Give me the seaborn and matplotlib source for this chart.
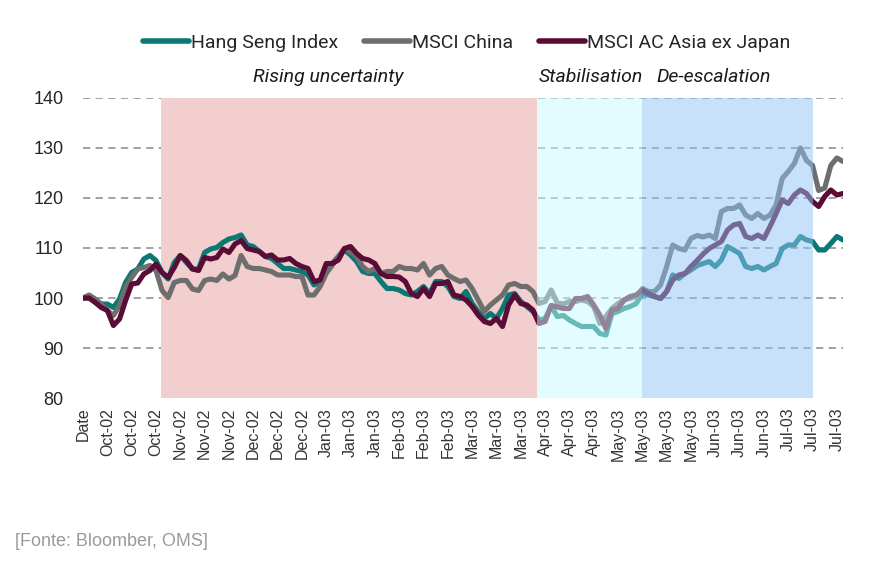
import numpy as np
import pandas as pd
import matplotlib
matplotlib.use("Agg")
import matplotlib.pyplot as plt
import matplotlib.transforms as mtransforms
from matplotlib.lines import Line2D
import seaborn as sns

# index levels (base 100), one value per trading-day step
hang_seng = [
    100.0, 100.0, 99.5, 98.8, 98.8, 98.1, 99.8, 103.1, 105.1, 105.8,
    107.8, 108.5, 107.5, 105.1, 103.8, 107.1, 108.5, 107.1, 105.8, 105.8,
    109.1, 109.8, 110.1, 111.1, 111.8, 112.1, 112.6, 110.6, 110.3, 109.3,
    108.3, 107.9, 106.9, 105.9, 105.9, 105.6, 105.3, 104.6, 102.6, 103.3,
    105.9, 106.9, 108.3, 109.6, 108.6, 107.3, 105.3, 104.9, 104.9, 103.3,
    101.9, 101.9, 101.6, 100.9, 100.6, 101.3, 102.3, 100.9, 103.3, 103.3,
    102.3, 100.3, 99.9, 101.3, 98.9, 97.3, 95.9, 96.9, 95.9, 97.9,
    100.6, 100.9, 99.3, 98.3, 97.3, 95.6, 95.9, 98.4, 96.3, 96.5,
    95.6, 94.9, 94.3, 94.3, 94.3, 92.9, 92.6, 96.9, 97.3, 97.9,
    98.3, 98.9, 100.9, 100.6, 100.3, 99.9, 101.3, 104.6, 103.9, 104.9,
    105.6, 106.5, 106.9, 107.3, 106.3, 107.6, 110.3, 109.6, 108.9, 106.3,
    105.9, 106.3, 105.6, 106.3, 106.9, 109.9, 110.6, 110.6, 112.3, 111.6,
    111.3, 109.6, 109.6, 110.9, 112.3, 111.6,
]
msci_china = [
    100.0, 100.6, 99.8, 98.8, 97.5, 96.5, 98.5, 102.1, 104.1, 105.8,
    106.1, 106.5, 105.5, 101.5, 100.1, 103.1, 103.5, 103.5, 101.8, 101.5,
    103.5, 103.8, 103.5, 104.8, 103.8, 104.5, 108.5, 106.3, 105.9, 105.9,
    105.6, 105.3, 104.6, 104.6, 104.6, 104.3, 104.3, 100.6, 100.6, 102.3,
    104.9, 106.6, 108.3, 109.9, 109.3, 108.3, 106.3, 105.3, 105.9, 104.9,
    105.3, 105.3, 106.3, 105.9, 105.9, 105.6, 106.9, 104.6, 105.9, 106.3,
    104.6, 103.9, 103.3, 103.6, 101.9, 99.6, 97.3, 98.6, 99.6, 100.6,
    102.6, 102.9, 102.3, 102.3, 101.3, 98.9, 99.3, 101.6, 99.0, 98.8,
    99.3, 99.3, 99.6, 99.3, 98.3, 94.9, 96.3, 97.9, 98.9, 99.6,
    99.9, 100.3, 101.9, 101.3, 101.3, 102.6, 106.3, 110.6, 109.9, 109.6,
    111.9, 112.5, 112.2, 112.6, 111.9, 117.3, 117.9, 117.9, 118.6, 116.6,
    115.9, 116.9, 115.9, 116.6, 118.6, 123.9, 125.3, 126.9, 130.0, 127.5,
    126.5, 121.5, 122.0, 126.5, 128.0, 127.3,
]
msci_asia = [
    100.0, 100.0, 99.1, 98.1, 97.5, 94.5, 95.8, 99.5, 102.8, 103.0,
    104.8, 105.5, 106.8, 105.1, 104.1, 106.1, 108.5, 107.5, 105.8, 105.5,
    108.1, 107.8, 108.1, 109.8, 109.1, 110.8, 111.5, 109.9, 109.6, 109.3,
    108.3, 108.6, 107.6, 107.6, 107.9, 106.9, 106.3, 105.9, 103.3, 103.6,
    106.9, 106.9, 107.6, 109.9, 110.3, 108.9, 107.9, 107.6, 106.9, 104.9,
    104.3, 104.3, 104.2, 103.3, 100.9, 100.3, 101.9, 100.3, 102.9, 102.9,
    103.3, 100.6, 100.3, 99.6, 98.3, 96.6, 95.3, 94.9, 95.9, 94.3,
    98.6, 100.6, 98.9, 98.6, 97.6, 94.9, 95.3, 98.5, 98.2, 97.9,
    97.9, 99.9, 99.9, 100.3, 98.6, 96.6, 93.9, 97.6, 97.9, 99.6,
    100.3, 100.6, 101.6, 100.9, 100.3, 99.9, 101.3, 103.6, 104.6, 104.9,
    106.3, 107.5, 108.8, 109.9, 110.6, 111.3, 113.6, 114.6, 114.9, 112.3,
    111.9, 112.6, 111.9, 114.3, 116.9, 119.6, 118.9, 120.6, 121.6, 120.9,
    119.3, 118.3, 120.3, 121.6, 120.6, 120.9,
]

series_names = ["Hang Seng Index", "MSCI China", "MSCI AC Asia ex Japan"]
series_colors = ["#0b7873", "#6e6e6e", "#5a0c36"]

tick_labels = [
    "Date",
    "Oct-02", "Oct-02", "Oct-02",
    "Nov-02", "Nov-02", "Nov-02",
    "Dec-02", "Dec-02", "Dec-02",
    "Jan-03", "Jan-03", "Jan-03",
    "Feb-03", "Feb-03", "Feb-03",
    "Mar-03", "Mar-03", "Mar-03",
    "Apr-03", "Apr-03", "Apr-03",
    "May-03", "May-03", "May-03", "May-03",
    "Jun-03", "Jun-03", "Jun-03",
    "Jul-03", "Jul-03", "Jul-03",
]
tick_step = 4

# phases (in index units)
phase_names = ["Rising uncertainty", "Stabilisation", "De-escalation"]
phase_start = [12.85, 74.6, 91.9]
phase_end = [74.6, 91.9, 120.1]
phase_label_x = [40.4, 83.5, 103.7]
phase_colors = ["#f2cece", "#c7fbff", "#8fc5f5"]

source_note = "[Fonte: Bloomber, OMS]"

# ---- long-form table for seaborn
n = len(hang_seng)
df = pd.DataFrame({
    "idx": list(range(n)) * 3,
    "value": hang_seng + msci_china + msci_asia,
    "series": [series_names[0]] * n + [series_names[1]] * n + [series_names[2]] * n,
})

sns.set_style("white")
narrow = ["Roboto", "DejaVu Sans"]
plt.rcParams["font.family"] = ["Liberation Sans", "DejaVu Sans"]

fig = plt.figure(figsize=(8.74, 5.69), dpi=100)
ax = fig.add_axes([0.095, 0.3005, 0.8695, 0.5273])

sns.lineplot(data=df, x="idx", y="value", hue="series", hue_order=series_names,
             palette=series_colors, linewidth=3.7, legend=False, ax=ax, zorder=2)

# shaded phases: first one is opaque behind the lines, the later ones wash over them
ax.axvspan(phase_start[0], phase_end[0], color=phase_colors[0], lw=0, zorder=1)
for s, e, c in zip(phase_start[1:], phase_end[1:], phase_colors[1:]):
    ax.axvspan(s, e, color=c, alpha=0.5, lw=0, zorder=3)

trans = mtransforms.blended_transform_factory(ax.transData, ax.transAxes)
for name, x in zip(phase_names, phase_label_x):
    ax.text(x, 1.07, name, transform=trans, ha="center", va="center",
            fontsize=14, style="italic", family=narrow, color="#1a1a1a")

ax.set_xlim(0, n - 1)
ax.set_ylim(80, 140)
ax.set_yticks(range(80, 141, 10))
ax.set_xticks(range(0, len(tick_labels) * tick_step, tick_step))
ax.set_xticklabels(tick_labels, rotation=90, fontsize=11.5, color="#333333")
ax.set_xticks(range(n), minor=True)
ax.tick_params(axis="x", which="both", length=3, width=0.9, color="#bdbdbd",
               direction="out", pad=4)
ax.tick_params(axis="y", length=0, labelsize=13, labelcolor="#262626", pad=14)
ax.set_xlabel("")
ax.set_ylabel("")

ax.grid(axis="y", color="#9a9a9a", linestyle=(0, (4, 3)), linewidth=1.3)
ax.grid(axis="x", visible=False)
ax.set_axisbelow(True)
ax.get_ygridlines()[0].set_visible(False)
for sp in ax.spines.values():
    sp.set_visible(False)

handles = [Line2D([0], [0], color=c, lw=4) for c in series_colors]
fig.legend(handles, series_names, loc="center", bbox_to_anchor=(0.534, 0.924),
           ncol=3, frameon=False, handlelength=2.4, handletextpad=0.1,
           columnspacing=1.3, prop={"family": narrow, "size": 14})

fig.text(15 / 874, 1 - 541 / 569, source_note, color="#9a9a9a", fontsize=13,
         va="center", ha="left")

fig.savefig("out.png", dpi=100)
plt.close(fig)
